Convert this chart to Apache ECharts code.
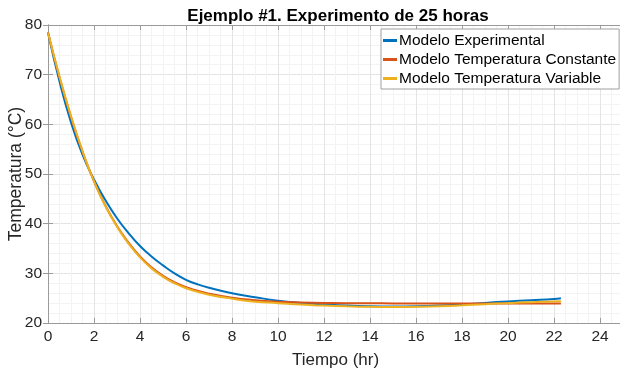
<!DOCTYPE html>
<html><head><meta charset="utf-8">
<script src="https://cdn.jsdelivr.net/npm/echarts@6/dist/echarts.min.js"></script>
<style>html,body{margin:0;padding:0;background:#fff}#c{width:620px;height:371px}</style>
</head><body><div id="c"></div>
<script>
const tiempo = [0,0.5,1,1.5,2,2.5,3,3.5,4,4.5,5,5.5,6,6.5,7,8,9,10,11,12,13,14,15,16,17,18,19,20,21,22,22.3];
const experimental = [78.5,68.6,60.4,53.9,48.9,44.7,41.1,38.1,35.5,33.4,31.6,30.0,28.7,27.8,27.1,26.0,25.2,24.5,24.05,23.75,23.5,23.35,23.3,23.35,23.5,23.75,24.05,24.35,24.6,24.85,25.0];
const constante = [78.5,69.5,61.5,54.5,48.5,43.6,39.5,36.2,33.4,31.2,29.5,28.2,27.2,26.5,25.9,25.1,24.6,24.3,24.15,24.05,24.0,24.0,23.95,23.95,23.95,23.95,23.95,23.95,23.95,23.95,23.95];
const variable = [78.5,69.6,61.6,54.6,48.5,43.5,39.4,36.0,33.2,31.0,29.3,28.0,27.0,26.3,25.7,24.9,24.3,24.0,23.7,23.5,23.35,23.25,23.2,23.25,23.35,23.55,23.8,24.0,24.2,24.35,24.4];
const names = ['Modelo Experimental','Modelo Temperatura Constante','Modelo Temperatura Variable'];
const colors = ['#0072BD','#D95319','#EDB120'];

const pair = arr => tiempo.map((t,i)=>[t,arr[i]]);
const font = 'Liberation Sans, Arial, Helvetica, sans-serif';
const chart = echarts.init(document.getElementById('c'));
const axisCommon = {
  axisLine:{show:true,lineStyle:{color:'#9a9a9a',width:1}},
  axisTick:{show:true,inside:true,length:5,lineStyle:{color:'#9a9a9a'}},
  splitLine:{show:true,lineStyle:{color:'#e4e4e4',width:1}},
  minorSplitLine:{show:true,lineStyle:{color:'#f3f3f3',width:1}},
  axisLabel:{color:'#262626',fontSize:15.5,fontFamily:font}
};
chart.setOption({
  backgroundColor:'#fff',
  animation:false,
  title:{text:'Ejemplo #1. Experimento de 25 horas',left:333,textAlign:'center',top:3,
    textStyle:{fontFamily:font,fontSize:17,fontWeight:'bold',color:'#000'}},
  grid:{left:48,right:-3,top:25,bottom:48,outerBoundsMode:'none',containLabel:false},
  legend:{orient:'vertical',left:381,top:29,padding:[2,3,1,2],itemGap:0,
    backgroundColor:'#fff',borderColor:'#a0a0a0',borderWidth:1,borderRadius:0,
    icon:'rect',itemWidth:14,itemHeight:3,
    textStyle:{fontFamily:font,fontSize:15.5,color:'#000',lineHeight:19,padding:[0,0,0,-3]},
    data:names},
  xAxis:[
    Object.assign({},axisCommon,{type:'value',min:0,max:25,interval:2,
      minorTick:{show:false,splitNumber:4},
      axisLabel:Object.assign({},axisCommon.axisLabel,{showMaxLabel:false,margin:6}),
      name:'Tiempo (hr)',nameLocation:'middle',nameGap:29,
      nameTextStyle:{fontFamily:font,fontSize:17,color:'#262626'}}),
    {type:'value',position:'top',min:0,max:25,interval:2,
      axisLine:{show:true,lineStyle:{color:'#9a9a9a'}},
      axisTick:{show:true,inside:true,length:5,lineStyle:{color:'#9a9a9a'}},
      axisLabel:{show:false},splitLine:{show:false}}
  ],
  yAxis:[
    Object.assign({},axisCommon,{type:'value',min:20,max:80,interval:10,
      minorTick:{show:false,splitNumber:5},
      axisLabel:Object.assign({},axisCommon.axisLabel,{margin:6}),
      name:'Temperatura (°C)',nameLocation:'middle',nameGap:23,nameMoveOverlap:false,
      nameTextStyle:{fontFamily:font,fontSize:17.5,color:'#262626'}}),
    {type:'value',position:'right',min:20,max:80,interval:10,
      axisLine:{show:true,lineStyle:{color:'#9a9a9a'}},
      axisTick:{show:true,inside:true,length:5,lineStyle:{color:'#9a9a9a'}},
      axisLabel:{show:false},splitLine:{show:false}}
  ],
  series:[experimental,constante,variable].map((arr,i)=>({
    name:names[i],type:'line',data:pair(arr),smooth:0.5,showSymbol:false,
    xAxisIndex:0,yAxisIndex:0,
    lineStyle:{color:colors[i],width:2},itemStyle:{color:colors[i]},z:2+i
  }))
});
</script></body></html>
